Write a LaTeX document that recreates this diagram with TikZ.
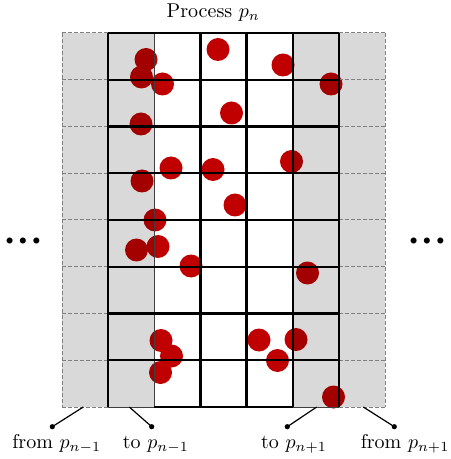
\documentclass[tikz,border=0pt]{standalone}
\definecolor{particle}{HTML}{C00000}
\begin{document}
\begin{tikzpicture}[x=0.5pt, y=-0.5pt,
    particle/.style={fill=particle},
    ghostline/.style={black!50, line width=0.5pt, dash pattern=on 2pt off 1pt},
    borderline/.style={black!75, line width=0.5pt},
    gridline/.style={black, line width=1.1pt},
    pointer/.style={semithick}]
    \useasboundingbox (0,0) rectangle (450,459);

    % 粒子
    \foreach \px/\py in {146/59.5, 141.5/77, 162.5/84, 218/49.5, 283/65, 331/84,
        141/124, 231.5/113, 171/168, 213/169.5, 291.5/161.5, 142/181, 235/205,
        155/220, 136.5/250, 158/246.5, 191/266, 307.5/273, 161/340.5,
        171.5/356, 160.5/372.5, 259/340, 296/339.5, 277.5/360.5, 333.5/397}
        \fill[particle] (\px,\py) circle[radius=5.75pt];

    % 灰色区域
    \fill[black, fill opacity=0.15] (62,33) rectangle (154.29,407);
    \fill[black, fill opacity=0.15] (292.71,33) rectangle (385,407);

    % 虚线
    \draw[ghostline] (62,33) -- (62,407);
    \draw[ghostline] (385,33) -- (385,407);
    \foreach \y in {33, 79.75, 126.5, 173.25, 220, 266.75, 313.5, 360.25, 407} {
        \draw[ghostline] (62,\y) -- (108.14,\y);
        \draw[ghostline] (338.86,\y) -- (385,\y);
    }
    \draw[borderline] (108.14,33) rectangle (154.29,407);
    \draw[borderline] (292.71,33) rectangle (338.86,407);

    % 网格
    \foreach \x in {108.14, 200.43, 246.57, 292.71, 338.86}
        \draw[gridline] (\x,33) -- (\x,407);
    \foreach \y in {33, 79.75, 126.5, 173.25, 220, 266.75, 313.5, 360.25}
        \draw[gridline] (108.14,\y) -- (338.86,\y);
    \draw[gridline] (154.29,407) -- (292.71,407);

    \node[anchor=base] (title) at (213.3,17.5) {Process $p_n$};
    \node (dotsL) at (23,241.7) {\scriptsize$\bullet$\hspace{2.6pt}$\bullet$\hspace{2.6pt}$\bullet$};
    \node (dotsR) at (427,241.7) {\scriptsize$\bullet$\hspace{2.6pt}$\bullet$\hspace{2.6pt}$\bullet$};

    % 通信
    \coordinate (fromprevA) at (83.3,407);
    \coordinate (fromprevB) at (52.3,426.7);
    \coordinate (toprevA) at (129.3,407);
    \coordinate (toprevB) at (151.7,426.7);
    \coordinate (tonextA) at (316.7,407);
    \coordinate (tonextB) at (287.3,426.7);
    \coordinate (fromnextA) at (363.3,407);
    \coordinate (fromnextB) at (394.3,426.7);
    \foreach \c in {fromprev, toprev, tonext, fromnext} {
        \draw[pointer] (\c A) -- (\c B);
        \fill (\c B) circle[radius=1.3pt];
    }
    \node[anchor=base] (fromprev) at (56.7,448) {from $p_{n-1}$};
    \node[anchor=base] (toprev) at (155.8,448) {to $p_{n-1}$};
    \node[anchor=base] (tonext) at (294,448) {to $p_{n+1}$};
    \node[anchor=base] (fromnext) at (405,448) {from $p_{n+1}$};
\end{tikzpicture}
\end{document}
